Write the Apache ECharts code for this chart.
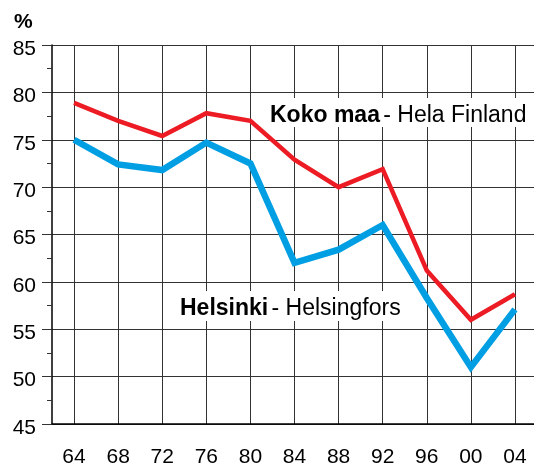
<!DOCTYPE html>
<html>
<head>
<meta charset="utf-8">
<script src="https://cdn.jsdelivr.net/npm/echarts@6/dist/echarts.min.js"></script>
<style>
  html, body { margin: 0; padding: 0; background: #fff; }
  #chart { width: 534px; height: 463px; }
</style>
</head>
<body>
<div id="chart"></div>
<script>
const years    = ['64', '68', '72', '76', '80', '84', '88', '92', '96', '00', '04']
const kokoMaa  = [78.9, 77.0, 75.4, 77.8, 77.0, 72.9, 70.0, 71.9, 61.2, 56.0, 58.7]
const helsinki = [75.0, 72.4, 71.8, 74.7, 72.5, 62.0, 63.4, 66.0, 58.3, 51.0, 57.1]

const font = '"Liberation Sans", Arial, sans-serif'
const red  = '#ed1c24'
const blue = '#009fe3'
const gridColor = '#333'

const chart = echarts.init(document.getElementById('chart'), null, { renderer: 'canvas' })

chart.setOption({
  backgroundColor: '#fff',
  animation: false,
  grid: { left: 52, right: -3, top: 45, bottom: 39, outerBoundsMode: 'none', containLabel: false },
  xAxis: {
    type: 'category', data: years, boundaryGap: true,
    axisLine: { lineStyle: { color: '#000', width: 1.5 } },
    axisTick: { alignWithLabel: true, length: 11, lineStyle: { color: gridColor } },
    axisLabel: { color: '#000', fontFamily: font, fontSize: 21, margin: 23 },
    splitLine: { show: true, alignWithLabel: true, lineStyle: { color: gridColor, width: 1 } }
  },
  yAxis: {
    type: 'value', min: 45, max: 85, interval: 5,
    axisLine: { show: true, lineStyle: { color: '#000', width: 1.5 } },
    axisTick: { show: true, length: 10, lineStyle: { color: gridColor } },
    minorTick: { show: true, splitNumber: 2, length: 5, lineStyle: { color: gridColor } },
    axisLabel: {
      color: '#000', fontFamily: font, fontSize: 21, margin: 16,
      verticalAlign: 'top', lineHeight: 8
    },
    splitLine: { show: true, lineStyle: { color: gridColor, width: 1 } }
  },
  series: [
    {
      name: 'Koko maa', type: 'line', data: kokoMaa,
      symbol: 'none', z: 3,
      lineStyle: { color: red, width: 4.5, join: 'miter' }
    },
    {
      name: 'Helsinki', type: 'line', data: helsinki,
      symbol: 'none', z: 4,
      lineStyle: { color: blue, width: 6.5, join: 'miter' }
    }
  ],
  graphic: [
    {
      type: 'text', left: 14, top: 12, z: 10,
      style: { text: '%', fontFamily: font, fontSize: 21, fontWeight: 'bold', fill: '#000' }
    },
    {
      type: 'text', left: 262, top: 98, z: 10,
      style: {
        text: '{b|Koko maa} {n|- Hela Finland}',
        backgroundColor: '#fff',
        padding: [6, 10, 0, 8],
        rich: {
          b: { fontFamily: font, fontSize: 23, fontWeight: 'bold', fill: '#000' },
          n: { fontFamily: font, fontSize: 23, fill: '#000' }
        }
      }
    },
    {
      type: 'text', left: 172, top: 291, z: 10,
      style: {
        text: '{b|Helsinki} {n|- Helsingfors}',
        backgroundColor: '#fff',
        padding: [6, 8, 1, 8],
        rich: {
          b: { fontFamily: font, fontSize: 23, fontWeight: 'bold', fill: '#000' },
          n: { fontFamily: font, fontSize: 23, fill: '#000' }
        }
      }
    }
  ]
})
</script>
</body>
</html>
